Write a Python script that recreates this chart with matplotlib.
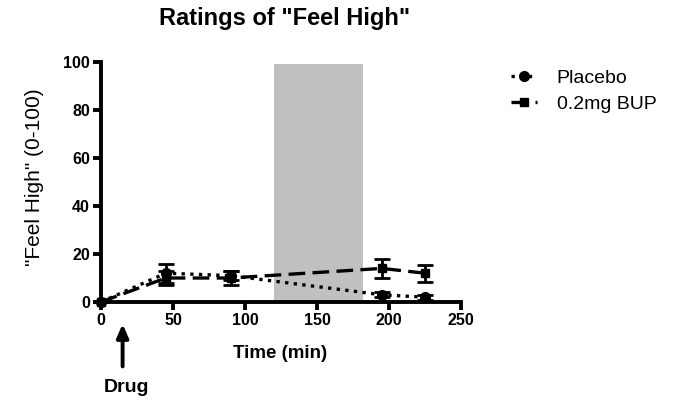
import matplotlib
matplotlib.use("Agg")
import matplotlib.pyplot as plt
from matplotlib.lines import Line2D

plt.rcParams['font.family'] = ['Liberation Sans', 'DejaVu Sans']

time = [0, 45, 90, 195, 225]
placebo = [0, 12, 11, 3, 2]
placebo_err = [0, 4, 2, 1, 1]
bup = [0, 10, 10, 14, 12]
bup_err = [0, 3, 3, 4, 3.5]
shade_x = [120, 182]
shade_top = 99
xticks = [0, 50, 100, 150, 200, 250]
yticks = [0, 20, 40, 60, 80, 100]
drug_time = 15

W, H = 676, 400
fig = plt.figure(figsize=(W/100, H/100), dpi=100)
ax = fig.add_axes([101/W, 1-302/H, 360/W, 240/H])

ax.fill_between(shade_x, 0, shade_top, color='#c0c0c0', lw=0, zorder=0)

dot = (0, (1, 1.6))
dash = (0, (5, 2.2))
ax.errorbar(time, placebo, yerr=placebo_err, color='black', ls=dot, lw=2.4,
            marker='o', ms=7, capsize=6, elinewidth=2, capthick=2, zorder=3, clip_on=False)
ax.errorbar(time, bup, yerr=bup_err, color='black', ls=dash, lw=2.4,
            marker='s', ms=5.5, capsize=6, elinewidth=2, capthick=2, zorder=3, clip_on=False)

ax.set_xlim(0, 250)
ax.set_ylim(0, 100)
ax.set_xticks(xticks)
ax.set_yticks(yticks)
for s in ['top', 'right']:
    ax.spines[s].set_visible(False)
for s in ['left', 'bottom']:
    ax.spines[s].set_linewidth(2.8)
ax.tick_params(width=2.8, length=6, labelsize=11.5, pad=2)
for lab in ax.get_xticklabels() + ax.get_yticklabels():
    lab.set_fontweight('bold')

fig.text(280/W, 1-353/H, 'Time (min)', ha='center', va='center', fontsize=13.5, fontweight='bold')
fig.text(35/W, 1-177/H, '"Feel High" (0-100)', ha='center', va='center', rotation=90,
         fontsize=15)
fig.text(285/W, 1-18/H, 'Ratings of "Feel High"', ha='center', va='center', fontsize=17,
         fontweight='bold')

ax.annotate('', xy=(drug_time, -8), xytext=(drug_time, -28), xycoords='data',
            textcoords='data', annotation_clip=False,
            arrowprops=dict(arrowstyle='-|>,head_width=0.35,head_length=0.8', color='black', lw=2.8))
fig.text(127/W, 1-387/H, 'Drug', ha='center', va='center', fontsize=14, fontweight='bold')

handles = [Line2D([], [], color='black', ls=dot, lw=2.4, marker='o', ms=7),
           Line2D([], [], color='black', ls=dash, lw=2.4, marker='s', ms=5.5)]
labels = ['Placebo', '0.2mg BUP']
fig.legend(handles, labels, loc='upper left', bbox_to_anchor=(511/W, 1-69/H), frameon=False,
           fontsize=14, handlelength=1.35, handletextpad=1.0, labelspacing=0.45,
           borderpad=0, borderaxespad=0)

fig.savefig('out.png', dpi=100)
